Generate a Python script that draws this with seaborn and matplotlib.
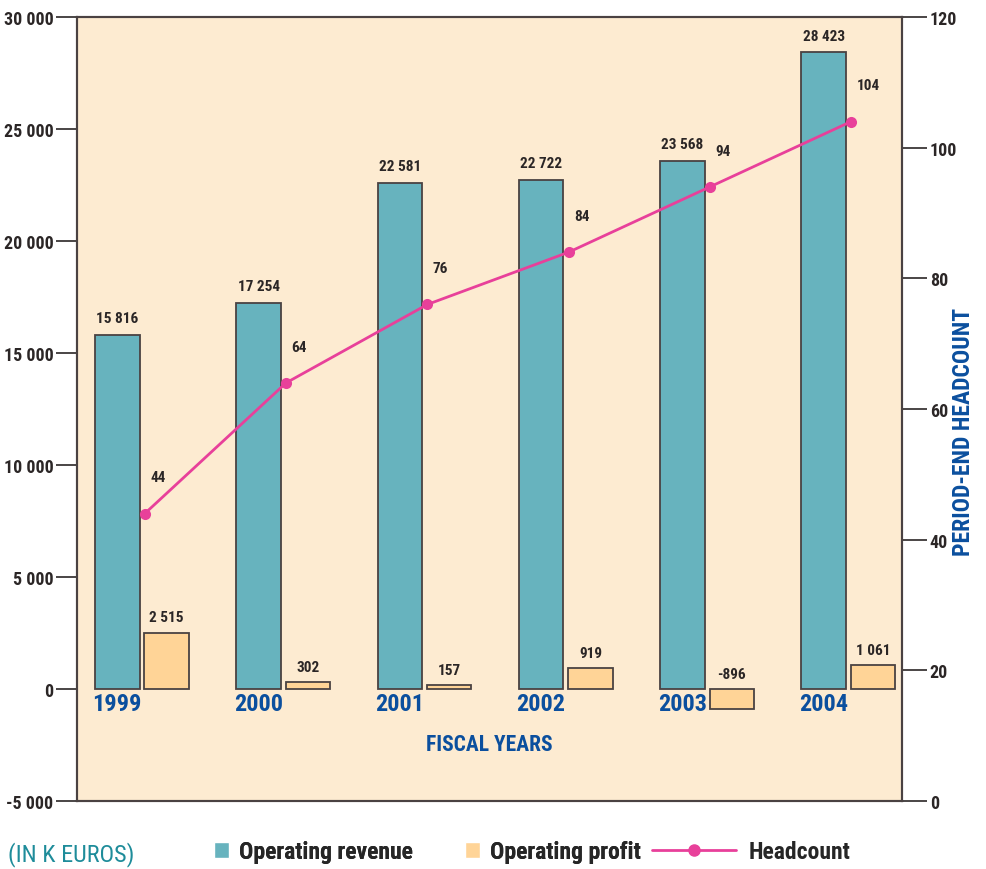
import numpy as np
import pandas as pd
import seaborn as sns
import matplotlib.pyplot as plt
from matplotlib.ticker import FuncFormatter
from matplotlib.patches import Patch
from matplotlib.lines import Line2D

years = ["1999", "2000", "2001", "2002", "2003", "2004"]
revenue = [15816, 17254, 22581, 22722, 23568, 28423]
profit = [2515, 302, 157, 919, -896, 1061]
headcount = [44, 64, 76, 84, 94, 104]

TEAL = "#67B3BE"
ORANGE = "#FFD497"
PINK = "#E8409A"
BLUE = "#0B4F9E"
BG = "#FDEBD1"
DARK = "#2b2626"
EDGE = "#4a4242"

sns.set_theme(style="white")
plt.rcParams["font.family"] = ["Liberation Sans Narrow", "DejaVu Sans Condensed",
                               "Roboto Condensed", "Roboto", "DejaVu Sans"]
plt.rcParams["font.weight"] = "bold"


def fmt_k(v):
    s = f"{abs(int(round(v))):,}".replace(",", " ")
    return "-" + s if v < 0 else s


df = pd.DataFrame({
    "year": years * 2,
    "value": revenue + profit,
    "series": ["Operating revenue"] * 6 + ["Operating profit"] * 6,
})

fig = plt.figure(figsize=(9.87, 8.70), dpi=100)
ax = fig.add_axes([77 / 987, 1 - 802 / 870, (902 - 77) / 987, (802 - 18) / 870])
ax.set_facecolor(BG)

sns.barplot(data=df, x="year", y="value", hue="series",
            palette=[TEAL, ORANGE], saturation=1, width=0.7, gap=0.1,
            edgecolor=EDGE, linewidth=1.3, legend=False, ax=ax)

ax.set_xlim(-0.46, 5.38)
ax.set_ylim(-5000, 30000)
ax.set_yticks(np.arange(-5000, 30001, 5000))
ax.yaxis.set_major_formatter(FuncFormatter(lambda v, p: fmt_k(v)))
ax.set_xticks([])
ax.set_xlabel("")
ax.set_ylabel("")
ax.tick_params(axis="y", direction="out", length=15, width=1.2, color=DARK,
               labelsize=13, labelcolor=DARK, left=True, pad=2)
for s in ax.spines.values():
    s.set_color(EDGE)
    s.set_linewidth(1.5)

# bar value labels
rev_bars, prof_bars = ax.containers[0], ax.containers[1]
for bar, v in zip(rev_bars, revenue):
    cx = bar.get_x() + bar.get_width() / 2
    ax.annotate(fmt_k(v), (cx, v), xytext=(0, 7), textcoords="offset points",
                ha="center", va="bottom", fontsize=11, color=DARK)
for bar, v in zip(prof_bars, profit):
    cx = bar.get_x() + bar.get_width() / 2
    ax.annotate(fmt_k(v), (cx, max(v, 0)), xytext=(0, 6), textcoords="offset points",
                ha="center", va="bottom", fontsize=11, color=DARK)

# year labels under the revenue bars
for bar, y in zip(rev_bars, years):
    cx = bar.get_x() + bar.get_width() / 2
    ax.annotate(y, (cx, 0), xytext=(0, -2), textcoords="offset points",
                ha="center", va="top", fontsize=17.5, color=BLUE)

ax.text(0.5, 0.073, "FISCAL YEARS", transform=ax.transAxes, ha="center",
        va="center", fontsize=15.5, color=BLUE)

# headcount line
ax2 = ax.twinx()
sns.lineplot(x=np.arange(len(years)) + 0.02, y=headcount, color=PINK,
             marker="o", markersize=8, markeredgewidth=0, linewidth=2,
             ax=ax2)
ax2.set_ylim(0, 120)
ax2.set_yticks(np.arange(0, 121, 20))
ax2.tick_params(axis="y", direction="out", length=18, width=1.2, color=DARK,
                labelsize=13, labelcolor=DARK, right=True, pad=2)
for s in ax2.spines.values():
    s.set_color(EDGE)
    s.set_linewidth(1.5)
for i, h in enumerate(headcount):
    ax2.annotate(str(h), (i + 0.02, h), xytext=(4, 26), textcoords="offset points",
                 ha="left", va="center", fontsize=11, color=DARK)

fig.text(964 / 987, 1 - 432 / 870, "PERIOD-END HEADCOUNT", rotation=90,
         ha="center", va="center", fontsize=17, color=BLUE)

# bottom legend
fig.text(8 / 987, 1 - 855 / 870, "(IN K EUROS)", ha="left", va="center",
         fontsize=17.5, color="#1E8C9A", fontweight="normal")
leg1 = fig.legend(handles=[Patch(facecolor=TEAL, label="Operating revenue"),
                           Patch(facecolor=ORANGE, label="Operating profit")],
                  loc="center left", bbox_to_anchor=(214 / 987, 1 - 853 / 870),
                  ncol=2, frameon=False, handlelength=0.65, handleheight=0.65,
                  handletextpad=0.42, columnspacing=2.2, borderpad=0,
                  borderaxespad=0, prop={"size": 17, "weight": "bold"})
fig.legend(handles=[Line2D([], [], color=PINK, marker="o", markersize=8,
                           linewidth=2, label="Headcount")],
           loc="center left", bbox_to_anchor=(652 / 987, 1 - 853 / 870),
           frameon=False, handlelength=3.55, handletextpad=0.55, borderpad=0,
           borderaxespad=0, prop={"size": 17, "weight": "bold"})
fig.add_artist(leg1)

fig.savefig("out.png", dpi=100, facecolor="white")
